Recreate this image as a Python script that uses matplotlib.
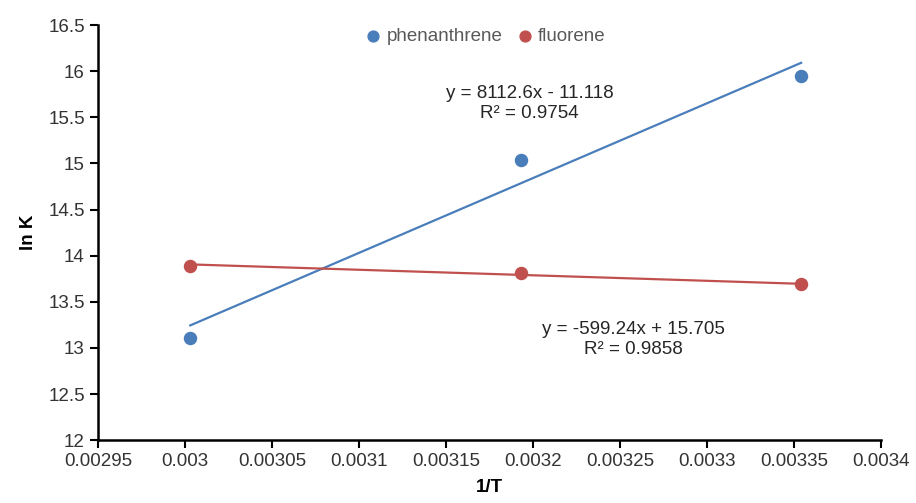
import numpy as np
import matplotlib
matplotlib.use("Agg")
import matplotlib.pyplot as plt
from matplotlib.ticker import FuncFormatter, MultipleLocator

plt.rcParams['font.family'] = ['Liberation Sans', 'DejaVu Sans']

# data
inv_T = [0.003003, 0.003193, 0.003354]
phen_lnK = [13.11, 15.04, 15.95]
fluo_lnK = [13.89, 13.81, 13.69]

# trendline coefficients as printed on the chart
phen_fit = [8112.6, -11.118]
fluo_fit = [-599.24, 15.705]
phen_eq = ["y = 8112.6x - 11.118", "R² = 0.9754"]
fluo_eq = ["y = -599.24x + 15.705", "R² = 0.9858"]

blue = '#4a7ebb'
red = '#c0504d'
fs = 13.5

fig = plt.figure(figsize=(9.16, 5.03), dpi=100)
ax = fig.add_axes([0.107, 0.125, 0.855, 0.825])

xs = np.array([min(inv_T), max(inv_T)])
ax.plot(xs, np.polyval(phen_fit, xs), color=blue, lw=1.6, zorder=2)
ax.plot(xs, np.polyval(fluo_fit, xs), color=red, lw=1.6, zorder=2)
ax.scatter(inv_T, phen_lnK, s=75, color=blue, label='phenanthrene', zorder=3)
ax.scatter(inv_T, fluo_lnK, s=75, color=red, label='fluorene', zorder=3)

ax.text(0.003198, 15.76, phen_eq[0], ha='center', va='center', fontsize=fs, color='#262626')
ax.text(0.003198, 15.54, phen_eq[1], ha='center', va='center', fontsize=fs, color='#262626')
ax.text(0.0032575, 13.2, fluo_eq[0], ha='center', va='center', fontsize=fs, color='#262626')
ax.text(0.0032575, 12.98, fluo_eq[1], ha='center', va='center', fontsize=fs, color='#262626')

ax.set_xlim(0.00295, 0.0034)
ax.set_ylim(12, 16.5)
ax.xaxis.set_major_locator(MultipleLocator(0.00005))
ax.yaxis.set_major_locator(MultipleLocator(0.5))
ax.xaxis.set_major_formatter(FuncFormatter(lambda v, p: format(round(v, 6), 'g')))
ax.yaxis.set_major_formatter(FuncFormatter(lambda v, p: format(round(v, 2), 'g')))

for s in ['top', 'right']:
    ax.spines[s].set_visible(False)
for s in ['left', 'bottom']:
    ax.spines[s].set_linewidth(1.8)
ax.tick_params(axis='both', length=6, width=1.5, labelsize=fs, labelcolor='#333333')

ax.set_xlabel('1/T', fontsize=fs, fontweight='bold', labelpad=6)
ax.set_ylabel('ln K', fontsize=fs, fontweight='bold', labelpad=8)

leg = ax.legend(loc='upper center', bbox_to_anchor=(0.488, 1.035), ncol=2, frameon=False,
                fontsize=fs, handletextpad=-0.3, columnspacing=0.2, markerscale=0.9)
for t in leg.get_texts():
    t.set_color('#595959')

fig.savefig('out.png', dpi=100)
